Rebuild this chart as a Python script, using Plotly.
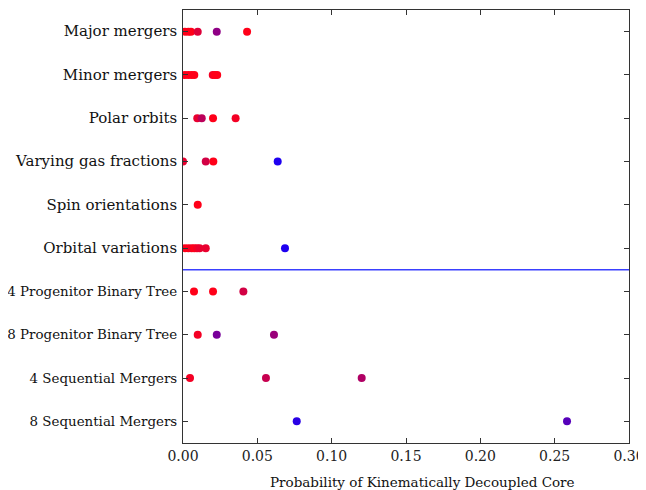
import plotly.graph_objects as go

categories = [
    "Major mergers", "Minor mergers", "Polar orbits", "Varying gas fractions",
    "Spin orientations", "Orbital variations", "4 Progenitor Binary Tree",
    "8 Progenitor Binary Tree", "4 Sequential Mergers", "8 Sequential Mergers",
]
# first six rows use a larger label font in the reference
large_label_count = 6

probabilities = [
    [0.0013, 0.0036, 0.0054, 0.0099, 0.0227, 0.0431],
    [0.0013, 0.0036, 0.0058, 0.0076, 0.0200, 0.0215, 0.0230],
    [0.0096, 0.0126, 0.0202, 0.0354],
    [0.0000, 0.0153, 0.0204, 0.0637],
    [0.0099],
    [0.0013, 0.0036, 0.0058, 0.0076, 0.0094, 0.0112, 0.0153, 0.0686],
    [0.0074, 0.0202, 0.0406],
    [0.0099, 0.0227, 0.0612],
    [0.0047, 0.0558, 0.1202],
    [0.0765, 0.2583],
]

blue_fraction = [
    [0.0, 0.0, 0.0, 0.15, 0.5, 0.0],
    [0.0, 0.0, 0.0, 0.0, 0.05, 0.0, 0.0],
    [0.1, 0.3, 0.0, 0.05],
    [0.1, 0.2, 0.0, 1.0],
    [0.0],
    [0.0, 0.0, 0.05, 0.0, 0.05, 0.1, 0.1, 1.0],
    [0.0, 0.0, 0.2],
    [0.05, 0.6, 0.45],
    [0.05, 0.25, 0.35],
    [0.95, 0.75],
]

x_ticks = [0.0, 0.05, 0.10, 0.15, 0.20, 0.25, 0.30]
x_tick_labels = ["0.00", "0.05", "0.10", "0.15", "0.20", "0.25", "0.30"]

xs, ys, cs = [], [], []
for cat, vals, fr in zip(categories, probabilities, blue_fraction):
    for v, f in zip(vals, fr):
        xs.append(v)
        ys.append(cat)
        cs.append(f)

y_ticktext = [
    (f'<span style="font-size:15px">{c}</span>' if i < large_label_count else c)
    for i, c in enumerate(categories)
]

fig = go.Figure()
fig.add_trace(go.Scatter(
    x=xs, y=ys, mode="markers",
    marker=dict(size=8, color=cs, cmin=0, cmax=1,
                colorscale=[[0, "rgb(255,0,25)"], [1, "rgb(30,0,240)"]],
                line=dict(width=0)),
    showlegend=False, cliponaxis=True,
))

font_family = "DejaVu Serif"
fig.update_layout(
    width=638, height=482,
    margin=dict(l=175, r=17, t=2, b=47),
    paper_bgcolor="white", plot_bgcolor="white",
    font=dict(family=font_family, color="#111111"),
    shapes=[dict(type="line", xref="paper", x0=0, x1=1, yref="y",
                 y0=5.5, y1=5.5, line=dict(color="#3a40ff", width=1.5))],
    annotations=[dict(text="Probability of Kinematically Decoupled Core",
                      xref="paper", yref="paper", x=0.536, y=0, yshift=-29,
                      xanchor="center", yanchor="top", showarrow=False,
                      font=dict(family=font_family, size=13.5, color="#111111"))],
)
fig.update_xaxes(
    range=[0, 0.30], tickvals=x_ticks, ticktext=x_tick_labels,
    ticks="inside", ticklen=5, tickcolor="#333333", mirror="ticks",
    showline=True, linecolor="#333333", linewidth=1.2, showgrid=False,
    zeroline=False, automargin=False,
    tickfont=dict(size=14, family=font_family, color="#222222"),
)
fig.update_yaxes(
    type="category", categoryorder="array", categoryarray=categories,
    tickvals=categories, ticktext=y_ticktext,
    range=[9.5, -0.5],
    ticks="inside", ticklen=5, tickcolor="#333333", mirror="ticks",
    showline=True, linecolor="#333333", linewidth=1.2, showgrid=False,
    zeroline=False, automargin=False,
    tickfont=dict(size=13.4, family=font_family, color="#111111"),
    ticklabelstandoff=2,
)

fig.write_html("out.html")
